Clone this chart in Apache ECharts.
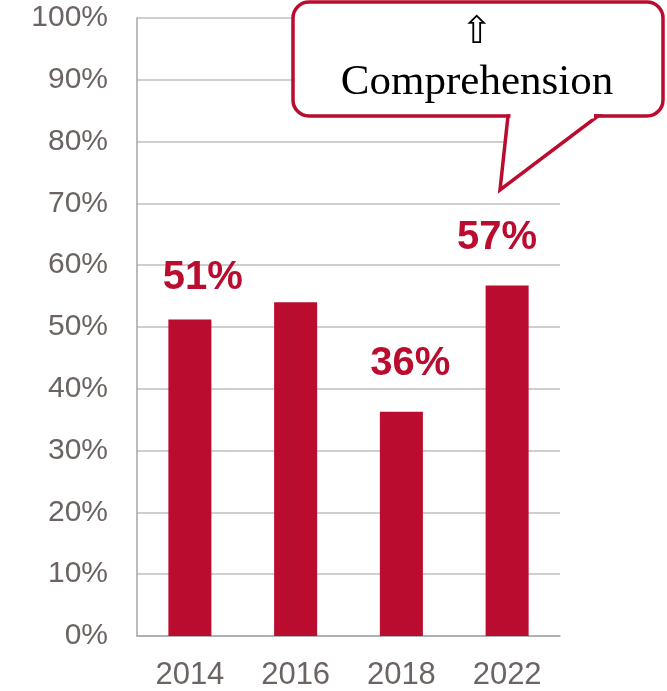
<!DOCTYPE html>
<html>
<head>
<meta charset="utf-8">
<script src="https://cdn.jsdelivr.net/npm/echarts@6/dist/echarts.min.js"></script>
<style>
html,body{margin:0;padding:0;background:#fff;}
#c{width:667px;height:691px;}
</style>
</head>
<body>
<div id="c"></div>
<script>
const categories = ['2014', '2016', '2018', '2022'];
const values = [51.2, 54.0, 36.3, 56.7];
const labelTexts = ['51%', '', '36%', '57%'];
const yTicks = [0, 10, 20, 30, 40, 50, 60, 70, 80, 90, 100];
const calloutArrow = '⇧';
const calloutText = 'Comprehension';

const RED = '#BA0C2F';
const GREY_TXT = '#6B6462';

// label placement tweaks (style, not data)
const labelTweaks = [
  { offset: [13, 0], distance: 22 },
  null,
  { offset: [9, 0], distance: 28 },
  { offset: [-10, 0], distance: 28 }
];

const seriesData = values.map((v, i) => {
  const t = labelTweaks[i];
  const item = { value: v };
  if (labelTexts[i] && t) {
    item.label = { show: true, formatter: labelTexts[i], offset: t.offset, distance: t.distance };
  } else {
    item.label = { show: false };
  }
  return item;
});

const chart = echarts.init(document.getElementById('c'), null, { renderer: 'canvas' });

const bx1 = 293, by1 = 2, bx2 = 663, by2 = 116;

chart.setOption({
  animation: false,
  backgroundColor: '#fff',
  grid: { left: 137, right: 107, top: 18, bottom: 54, containLabel: false },
  xAxis: {
    type: 'category',
    data: categories,
    axisTick: { show: false },
    axisLine: { show: true, lineStyle: { color: '#A6A6A6', width: 1.5 } },
    axisLabel: { color: GREY_TXT, fontFamily: 'Liberation Sans, Arial, sans-serif', fontSize: 31, margin: 24 }
  },
  yAxis: {
    type: 'value',
    min: yTicks[0],
    max: yTicks[yTicks.length - 1],
    interval: yTicks[1] - yTicks[0],
    axisLine: { show: true, lineStyle: { color: '#A6A6A6', width: 1.5 } },
    axisTick: { show: false },
    splitLine: { show: true, lineStyle: { color: '#BFBFBF', width: 1.5 } },
    axisLabel: {
      color: GREY_TXT, fontFamily: 'Liberation Sans, Arial, sans-serif', fontSize: 30, margin: 29,
      formatter: v => v + '%'
    }
  },
  series: [{
    type: 'bar',
    data: seriesData,
    barWidth: 43,
    itemStyle: { color: RED },
    label: {
      position: 'top',
      color: RED,
      fontFamily: 'Liberation Sans, Arial, sans-serif',
      fontWeight: 'bold',
      fontSize: 40
    }
  }],
  graphic: [
    {
      type: 'rect',
      shape: { x: bx1, y: by1, width: bx2 - bx1, height: by2 - by1, r: 16 },
      style: { fill: '#fff', stroke: RED, lineWidth: 3.5 },
      z: 100
    },
    {
      type: 'polygon',
      shape: { points: [[508, by2], [500, 190], [598, by2]] },
      style: { fill: '#fff', stroke: RED, lineWidth: 3.5, lineJoin: 'miter' },
      z: 101
    },
    {
      type: 'line',
      shape: { x1: 510.5, y1: by2, x2: 594, y2: by2 },
      style: { stroke: '#fff', lineWidth: 5 },
      z: 102
    },
    {
      type: 'text',
      x: 477, y: 33,
      style: {
        text: calloutArrow, fill: '#000', font: '38px "DejaVu Sans", sans-serif',
        align: 'center', verticalAlign: 'middle'
      },
      z: 103
    },
    {
      type: 'text',
      x: 477, y: 83,
      style: {
        text: calloutText, fill: '#000',
        font: '43px "Liberation Serif", "Times New Roman", serif',
        align: 'center', verticalAlign: 'middle'
      },
      z: 103
    }
  ]
});
</script>
</body>
</html>
